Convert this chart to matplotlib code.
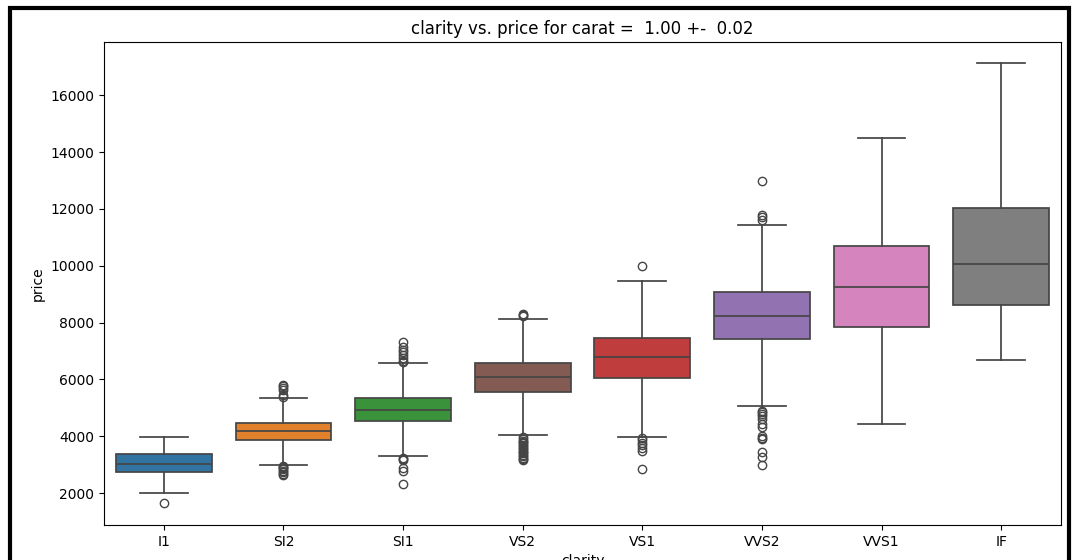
import matplotlib.pyplot as plt
from matplotlib.lines import Line2D

# Box statistics per clarity grade (price, USD)
clarity = ['I1', 'SI2', 'SI1', 'VS2', 'VS1', 'VVS2', 'VVS1', 'IF']
whisker_low = [1990, 3000, 3300, 4030, 3960, 5060, 4450, 6680]
q1 = [2740, 3885, 4540, 5565, 6060, 7425, 7860, 8615]
median = [3040, 4190, 4920, 6095, 6800, 8245, 9235, 10060]
q3 = [3365, 4470, 5355, 6565, 7450, 9070, 10705, 12020]
whisker_high = [3970, 5330, 6590, 8130, 9480, 11445, 14505, 17120]
outliers = [
    [1650],
    [5820, 5760, 5700, 5620, 5460, 5400,
     2960, 2920, 2880, 2840, 2790, 2740, 2690, 2650],
    [7300, 7150, 7050, 6950, 6850, 6750, 6650, 6620,
     3250, 3200, 3150, 2900, 2780, 2330],
    [8300, 8270, 8240,
     3960, 3900, 3850, 3800, 3750, 3700, 3650, 3600, 3550,
     3500, 3450, 3400, 3350, 3300, 3250, 3200, 3150],
    [9980, 3930, 3860, 3780, 3700, 3580, 3480, 2850],
    [12990, 11800, 11700, 11600,
     4900, 4850, 4780, 4700, 4620, 4450, 4330, 4000, 3950, 3900,
     3450, 3280, 3000],
    [],
    [],
]
box_colors = ['#3274a1', '#e1812c', '#3a923a', '#845b53',
              '#c03d3e', '#9372b2', '#d684bd', '#7f7f7f']

stats = []
for i, name in enumerate(clarity):
    stats.append({
        'label': name,
        'whislo': whisker_low[i],
        'q1': q1[i],
        'med': median[i],
        'q3': q3[i],
        'whishi': whisker_high[i],
        'fliers': outliers[i],
    })

line_color = '#454545'
fig = plt.figure(figsize=(10.76, 5.6), dpi=100)
ax = fig.add_axes([104 / 1076, 35 / 560, 957 / 1076, 483 / 560])

bp = ax.bxp(stats, positions=range(len(clarity)), widths=0.8,
            patch_artist=True, showfliers=True,
            boxprops=dict(edgecolor=line_color, linewidth=1.25),
            whiskerprops=dict(color=line_color, linewidth=1.25),
            capprops=dict(color=line_color, linewidth=1.25),
            medianprops=dict(color=line_color, linewidth=1.25),
            flierprops=dict(marker='o', markerfacecolor='none',
                            markeredgecolor=line_color, markersize=6,
                            markeredgewidth=1.0),
            capwidths=0.4)
for patch, c in zip(bp['boxes'], box_colors):
    patch.set_facecolor(c)

ax.set_xlim(-0.5, len(clarity) - 0.5)
ax.set_ylim(880, 17870)
ax.set_xticks(range(len(clarity)))
ax.set_xticklabels(clarity)
ax.tick_params(labelsize=10)
ax.set_xlabel('clarity', fontsize=10)
ax.set_ylabel('price', fontsize=10)
ax.set_title('clarity vs. price for carat =  1.00 +-  0.02', fontsize=12)

# screenshot frame
fig.add_artist(Line2D([10.3 / 1076, 10.3 / 1076], [0, 1 - 6 / 560],
                      color='black', linewidth=3, solid_capstyle='butt'))
fig.add_artist(Line2D([8 / 1076, 1071 / 1076], [1 - 7.7 / 560, 1 - 7.7 / 560],
                      color='black', linewidth=3, solid_capstyle='butt'))
fig.add_artist(Line2D([1069 / 1076, 1069 / 1076], [0, 1 - 6 / 560],
                      color='black', linewidth=3, solid_capstyle='butt'))

fig.savefig('out.png', dpi=100)
